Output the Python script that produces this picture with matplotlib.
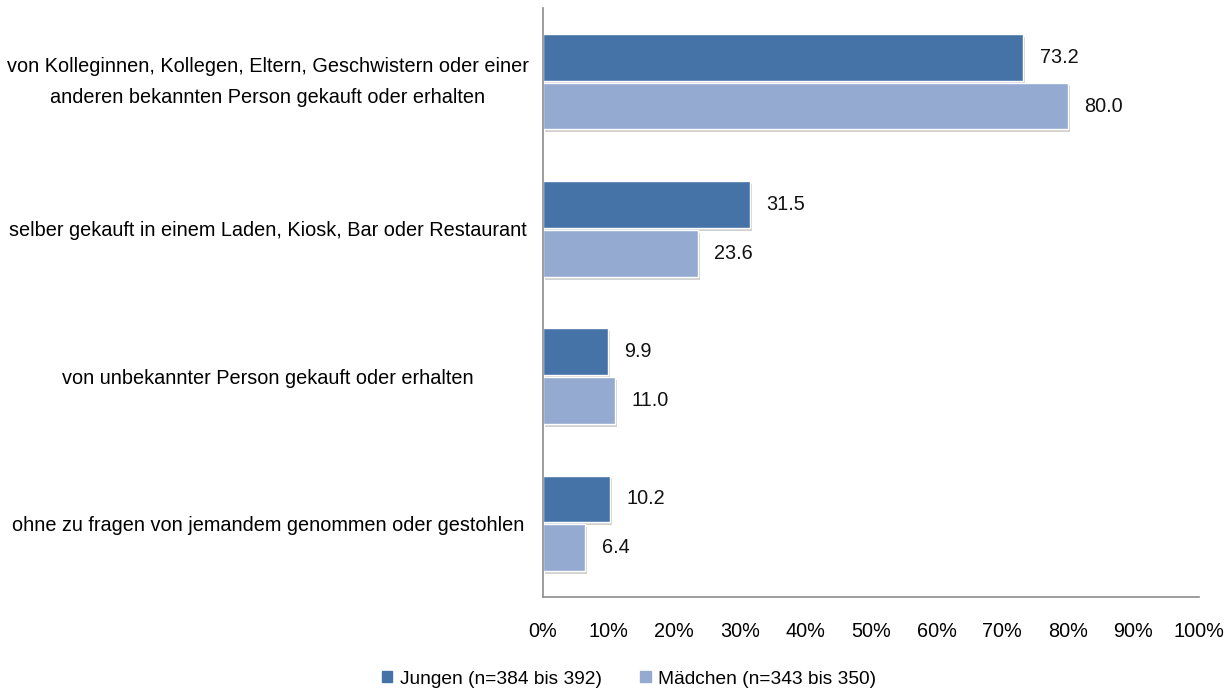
import matplotlib
matplotlib.use("Agg")
import matplotlib.pyplot as plt
import matplotlib.patheffects as pe
from matplotlib.patches import Patch
import numpy as np

plt.rcParams['font.family'] = ['Liberation Sans', 'DejaVu Sans']

categories = [
    "von Kolleginnen, Kollegen, Eltern, Geschwistern oder einer\nanderen bekannten Person gekauft oder erhalten",
    "selber gekauft in einem Laden, Kiosk, Bar oder Restaurant",
    "von unbekannter Person gekauft oder erhalten",
    "ohne zu fragen von jemandem genommen oder gestohlen",
]
jungen = [73.2, 31.5, 9.9, 10.2]
maedchen = [80.0, 23.6, 11.0, 6.4]
series_labels = ["Jungen (n=384 bis 392)", "Mädchen (n=343 bis 350)"]
xticks = [0, 10, 20, 30, 40, 50, 60, 70, 80, 90, 100]

c_dark = "#4573a7"
c_light = "#94aad0"
fs = 14.3

fig = plt.figure(figsize=(12.32, 6.93), dpi=100)
ax = fig.add_axes([543/1232, 1-597/693, (1199-543)/1232, (597-8)/693])

y = np.arange(len(categories))
h = 0.318
off = 0.166
shadow = [pe.SimplePatchShadow(offset=(1.5, -2), shadow_rgbFace="#999999", alpha=0.45), pe.Normal()]
b1 = ax.barh(y - off, jungen, height=h, color=c_dark, edgecolor="white", linewidth=1.0,
             path_effects=shadow)
b2 = ax.barh(y + off, maedchen, height=h, color=c_light, edgecolor="white", linewidth=1.0,
             path_effects=shadow)

for bars, vals in ((b1, jungen), (b2, maedchen)):
    for rect, v in zip(bars, vals):
        ax.annotate(f"{v:.1f}", (v, rect.get_y() + rect.get_height()/2),
                    xytext=(12, 0), textcoords="offset points", va="center", ha="left",
                    fontsize=fs, color="#111111")

ax.set_xlim(0, 100)
ax.set_ylim(3.5, -0.5)
ax.set_xticks(xticks)
ax.set_xticklabels([f"{t}%" for t in xticks], fontsize=fs)
ax.set_yticks(y)
ax.set_yticklabels(categories, fontsize=fs, ha="center", multialignment="center", linespacing=1.8)
ax.get_yticklabels()[0].set_va("center")
ax.tick_params(axis="y", length=0, pad=198)
ax.tick_params(axis="x", length=0, pad=18)
for s in ("top", "right"):
    ax.spines[s].set_visible(False)
for s in ("left", "bottom"):
    ax.spines[s].set_color("#8c8c8c")
    ax.spines[s].set_linewidth(1.2)

handles = [Patch(color=c_dark), Patch(color=c_light)]
ax.legend(handles=handles, labels=series_labels, loc="center", bbox_to_anchor=(629/1232, 1-679/693),
          bbox_transform=fig.transFigure, ncol=2, frameon=False, fontsize=13.8,
          handlelength=0.55, handleheight=0.55, handletextpad=0.4, columnspacing=2.0)

fig.savefig("out.png", dpi=100)
